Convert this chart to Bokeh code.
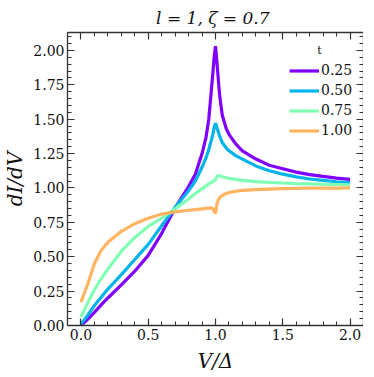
from bokeh.plotting import figure
from bokeh.models import (Range1d, LinearAxis, SingleIntervalTicker, NumeralTickFormatter,
                          Legend, LegendItem, Label)
from bokeh.embed import file_html
from bokeh.resources import INLINE

# ---- data ----
V = [0.0, 0.05, 0.1, 0.15, 0.2, 0.3, 0.4, 0.5, 0.6, 0.7, 0.8, 0.85, 0.9, 0.93, 0.95,
     0.97, 0.98, 0.99, 1.0, 1.01, 1.02, 1.03, 1.05, 1.08, 1.1, 1.15, 1.2, 1.3, 1.4,
     1.5, 1.6, 1.7, 1.8, 1.9, 2.0]

G_025 = [0.0, 0.045, 0.095, 0.15, 0.2, 0.295, 0.395, 0.51, 0.67, 0.855, 1.01, 1.10, 1.25,
         1.37, 1.50, 1.72, 1.83, 1.95, 2.03, 1.92, 1.80, 1.68, 1.53, 1.43, 1.39, 1.32,
         1.27, 1.21, 1.165, 1.14, 1.115, 1.097, 1.084, 1.072, 1.062]

G_050 = [0.01, 0.075, 0.145, 0.205, 0.265, 0.37, 0.48, 0.59, 0.725, 0.86, 0.98, 1.05, 1.15,
         1.22, 1.28, 1.35, 1.39, 1.44, 1.47, 1.44, 1.41, 1.38, 1.33, 1.29, 1.27, 1.235,
         1.21, 1.16, 1.125, 1.10, 1.08, 1.065, 1.055, 1.045, 1.038]

G_075 = [0.06, 0.165, 0.26, 0.34, 0.41, 0.54, 0.64, 0.72, 0.78, 0.85, 0.92, 0.96, 0.995,
         1.015, 1.03, 1.04, 1.047, 1.053, 1.06, 1.085, 1.09, 1.088, 1.082, 1.074, 1.07,
         1.062, 1.055, 1.046, 1.04, 1.036, 1.032, 1.029, 1.027, 1.025, 1.023]

G_100 = [0.17, 0.30, 0.45, 0.545, 0.605, 0.685, 0.74, 0.78, 0.81, 0.826, 0.838, 0.843,
         0.848, 0.851, 0.853, 0.855, 0.85, 0.83, 0.815, 0.88, 0.91, 0.928, 0.945, 0.96,
         0.966, 0.976, 0.982, 0.988, 0.992, 0.995, 0.997, 0.998, 0.999, 0.999, 1.0]

t_labels = ["0.25", "0.50", "0.75", "1.00"]
colors = ["#8000ff", "#00b4eb", "#80ffb4", "#ffb462"]
series = [G_025, G_050, G_075, G_100]

FONT = "DejaVu Serif"

p = figure(frame_width=296, frame_height=293, output_backend="svg", toolbar_location=None,
           x_range=Range1d(-0.1, 2.1), y_range=Range1d(0, 2.13),
           min_border_left=61, min_border_top=24, min_border_right=0, min_border_bottom=10,
           background_fill_color="white", border_fill_color="white")
p.outline_line_color = None
p.grid.visible = False

p.title.text = "l = 1,  ζ = 0.7"
p.title.align = "center"
p.title.text_font = FONT
p.title.text_font_style = "italic"
p.title.text_font_size = "17px"
p.title.text_color = "#111111"

xt = SingleIntervalTicker(interval=0.5, num_minor_ticks=5)
yt = SingleIntervalTicker(interval=0.25, num_minor_ticks=5)

def style(ax, ticker, labels=True):
    ax.ticker = ticker
    ax.axis_line_color = "#333333"
    ax.axis_line_width = 1.3
    ax.major_tick_in = 7
    ax.major_tick_out = 0
    ax.minor_tick_in = 4
    ax.minor_tick_out = 0
    ax.major_tick_line_color = "#333333"
    ax.minor_tick_line_color = "#333333"
    ax.major_tick_line_width = 1.2
    ax.minor_tick_line_width = 1.0
    if labels:
        ax.major_label_text_font = FONT
        ax.major_label_text_font_size = "14px"
        ax.major_label_text_color = "#111111"
    else:
        ax.major_label_text_font_size = "1px"
        ax.major_label_text_color = None
        ax.major_label_standoff = 0

xa = p.xaxis[0]
ya = p.yaxis[0]
style(xa, xt)
style(ya, yt)
xa.formatter = NumeralTickFormatter(format="0.0")
ya.formatter = NumeralTickFormatter(format="0.00")
xa.major_label_standoff = 3
ya.major_label_standoff = 3
xa.axis_label = "V/Δ"
ya.axis_label = "dI/dV"
for ax in (xa, ya):
    ax.axis_label_text_font = FONT
    ax.axis_label_text_font_style = "italic"
    ax.axis_label_text_font_size = "20px"
    ax.axis_label_text_color = "#111111"
xa.axis_label_standoff = 6
ya.axis_label_standoff = 3

top = LinearAxis()
right = LinearAxis()
style(top, SingleIntervalTicker(interval=0.5, num_minor_ticks=5), labels=False)
style(right, SingleIntervalTicker(interval=0.25, num_minor_ticks=5), labels=False)
p.add_layout(top, "above")
p.add_layout(right, "right")

items = []
for lab, col, g in zip(t_labels, colors, series):
    r = p.line(V, g, line_color=col, line_width=3.2)
    items.append(LegendItem(label=lab, renderers=[r]))

legend = Legend(items=items, location=(222, 187), background_fill_alpha=0,
                border_line_color=None, padding=0, spacing=4, glyph_width=30,
                glyph_height=15, label_height=15, label_standoff=2,
                label_text_font=FONT, label_text_font_size="14px",
                label_text_color="#111111")
p.add_layout(legend)

p.add_layout(Label(x=252, y=275, x_units="screen", y_units="screen", text="t",
                   text_font=FONT, text_font_size="11px", text_color="#111111",
                   text_align="center", text_baseline="middle"))

open("out.html", "w").write(file_html(p, INLINE))
